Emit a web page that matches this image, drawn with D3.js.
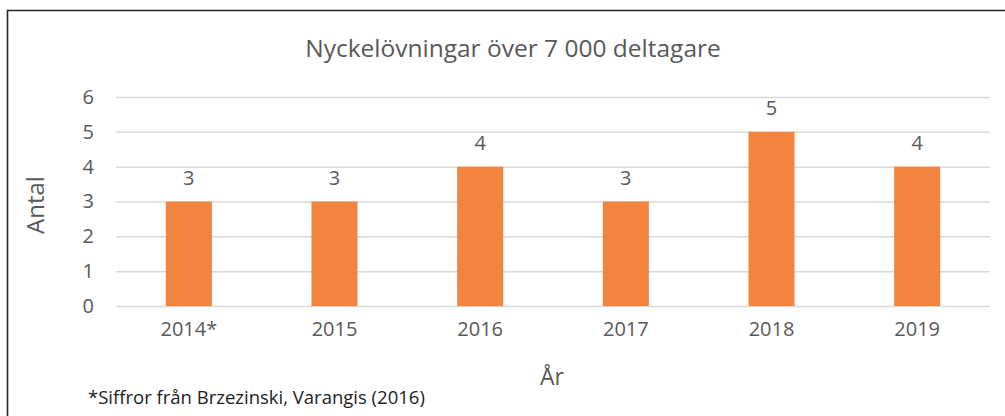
<!DOCTYPE html>
<html>
<head>
<meta charset="utf-8">
<script src="https://d3js.org/d3.v7.min.js"></script>
<style>
  body { margin: 0; background: #fff; }
  text { font-family: "Open Sans", "Noto Sans", sans-serif; }
</style>
</head>
<body>
<div id="container_chart"></div>
<script>
const WIDTH = 1005;
const HEIGHT = 416;
const MARGIN = { TOP: 97, BOTTOM: 110, LEFT: 116, RIGHT: 15 };

const years = ['2014*', '2015', '2016', '2017', '2018', '2019'];
const counts = [3, 3, 4, 3, 5, 4];
const yTicks = [0, 1, 2, 3, 4, 5, 6];

const TITLE = 'Nyckelövningar över 7 000 deltagare';
const FOOTNOTE = '*Siffror från Brzezinski, Varangis (2016)';

const width_plot = WIDTH - MARGIN.LEFT - MARGIN.RIGHT;
const height_plot = HEIGHT - MARGIN.TOP - MARGIN.BOTTOM;

const svg = d3.select('#container_chart')
  .append('svg')
    .attr('width', WIDTH)
    .attr('height', HEIGHT);

// frame (only left + top edge are inside the picture)
svg.append('path')
  .attr('d', `M7.5,${HEIGHT} V10.5 H${WIDTH}`)
  .attr('fill', 'none')
  .attr('stroke', '#262626')
  .attr('stroke-width', 1.6);

const chart = svg.append('g')
  .attr('transform', `translate(${MARGIN.LEFT}, ${MARGIN.TOP})`);

const xscale = d3.scaleBand()
  .domain(years)
  .range([0, width_plot])
  .paddingInner(0.684)
  .paddingOuter(0.342);

const yscale = d3.scaleLinear()
  .domain([0, 6])
  .range([height_plot, 0]);

// gridlines
chart.append('g')
  .attr('class', 'grid')
  .call(d3.axisLeft(yscale).tickValues(yTicks).tickSize(-width_plot).tickFormat(''))
  .call(g => g.select('.domain').remove())
  .call(g => g.selectAll('line').attr('stroke', '#d9d9d9').attr('stroke-width', 1.5));

// y tick labels
chart.append('g')
  .call(d3.axisLeft(yscale).tickValues(yTicks).tickSize(0).tickPadding(22).tickFormat(d3.format('d')))
  .call(g => g.select('.domain').remove())
  .call(g => g.selectAll('text')
    .style('font-size', '20px')
    .attr('fill', '#595959'));

// x tick labels
chart.append('g')
  .attr('transform', `translate(0, ${height_plot})`)
  .call(d3.axisBottom(xscale).tickSize(0).tickPadding(16))
  .call(g => g.select('.domain').remove())
  .call(g => g.selectAll('text')
    .style('font-size', '20px')
    .attr('fill', '#595959'));

// bars
chart.selectAll('rect.bar')
  .data(counts)
  .enter()
  .append('rect')
    .attr('class', 'bar')
    .attr('x', (d, i) => xscale(years[i]))
    .attr('y', d => yscale(d))
    .attr('width', xscale.bandwidth())
    .attr('height', d => height_plot - yscale(d))
    .attr('fill', '#f2843d');

// value labels
chart.selectAll('text.value')
  .data(counts)
  .enter()
  .append('text')
    .attr('class', 'value')
    .attr('x', (d, i) => xscale(years[i]) + xscale.bandwidth() / 2)
    .attr('y', d => yscale(d) - 17)
    .style('text-anchor', 'middle')
    .style('font-size', '20px')
    .attr('fill', '#595959')
    .text(d => d);

// title
svg.append('text')
  .attr('x', 513)
  .attr('y', 57)
  .style('text-anchor', 'middle')
  .style('font-size', '24.5px')
  .attr('fill', '#595959')
  .text(TITLE);

// axis titles
svg.append('text')
  .attr('transform', 'translate(44, 205) rotate(-90)')
  .style('text-anchor', 'middle')
  .style('font-size', '24px')
  .attr('fill', '#595959')
  .text('Antal');

svg.append('text')
  .attr('x', 552)
  .attr('y', 385)
  .style('text-anchor', 'middle')
  .style('font-size', '23px')
  .attr('fill', '#595959')
  .text('År');

// footnote
svg.append('text')
  .attr('x', 88)
  .attr('y', 404)
  .style('font-size', '18.5px')
  .attr('fill', '#222')
  .text(FOOTNOTE);
</script>
</body>
</html>
